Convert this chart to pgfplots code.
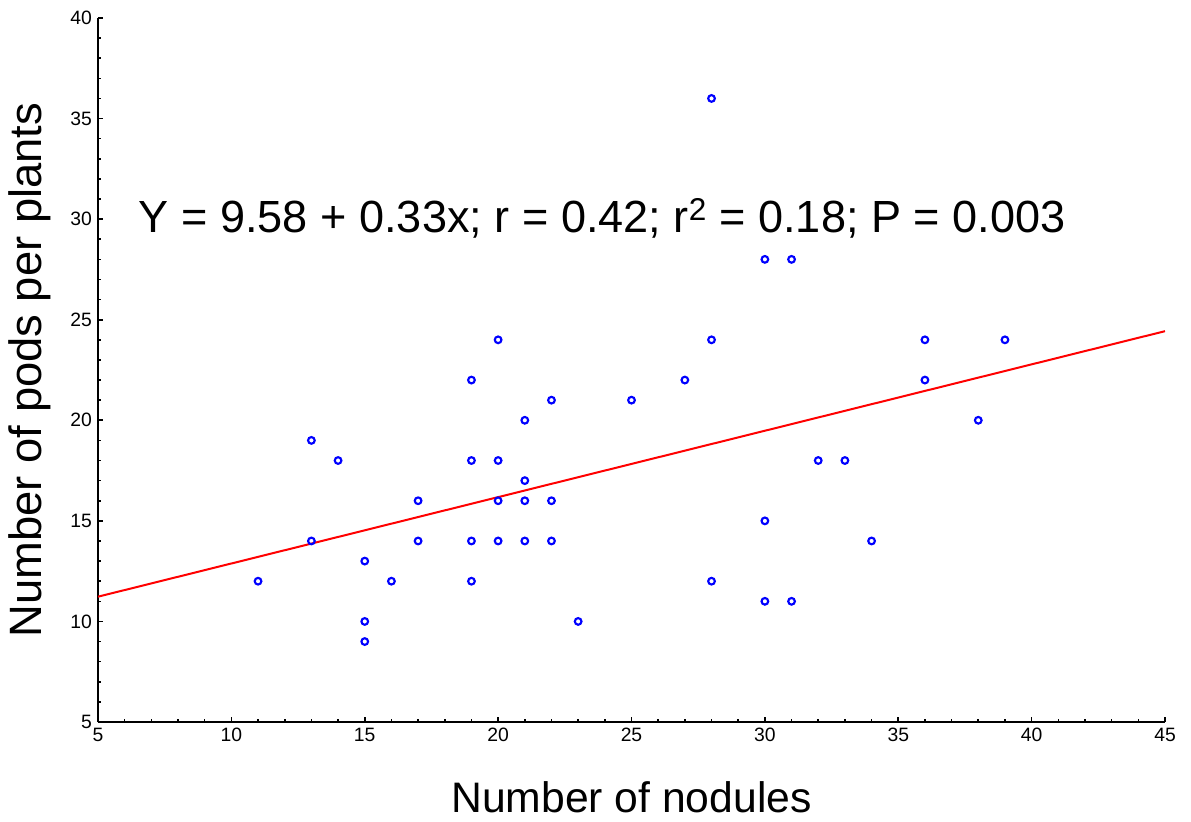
\documentclass[border=0pt]{standalone}
\usepackage{pgfplots}
\pgfplotsset{compat=1.18}
\usepackage{fontspec}
\setmainfont{Liberation Sans}
\begin{document}
\begin{tikzpicture}[x=0.75pt,y=0.75pt]
\useasboundingbox (-98,-99) rectangle (1093,722);
\begin{axis}[
  at={(0,0)}, anchor=south west,
  scale only axis, width=800.25pt, height=528pt,
  xmin=5, xmax=45, ymin=5, ymax=40,
  xtick={5,10,...,45}, ytick={5,10,...,40},
  xticklabels={5,10,15,20,25,30,35,40,45},
  yticklabels={5,10,15,20,25,30,35,40},
  minor tick num=4,
  axis x line=bottom, axis y line=left,
  axis line style={-, line width=1.5pt},
  tick align=inside,
  major tick length=4pt, minor tick length=2.2pt,
  every tick/.style={black, line width=1.2pt},
  tick label style={font=\fontsize{14.5pt}{16pt}\selectfont},
  yticklabel style={xshift=-1pt},
  xticklabel style={yshift=-1pt},
  xlabel={Number of nodules},
  ylabel={Number of pods per plants},
  xlabel style={font=\fontsize{32pt}{36pt}\selectfont, at={(axis description cs:0.5,0)}, anchor=center, yshift=-56.25pt},
  ylabel style={font=\fontsize{34pt}{38pt}\selectfont, at={(axis description cs:0,0.5)}, anchor=center, yshift=51pt},
  clip=false,
]
\addplot[red, line width=1.5pt] coordinates {(5,11.23) (45,24.43)};
\addplot[only marks, mark=o, mark size=2.5pt, mark options={blue, line width=1.6pt}] coordinates {
(11,12) (13,19) (13,14) (14,18) (15,13) (15,10) (15,9) (16,12) (17,16) (17,14)
(19,22) (19,18) (19,14) (19,12) (20,24) (20,18) (20,16) (20,14) (21,20) (21,17)
(21,16) (21,14) (22,21) (22,16) (22,14) (23,10) (25,21) (27,22) (28,36) (28,24)
(28,12) (30,28) (30,15) (30,11) (31,28) (31,11) (32,18) (33,18) (34,14) (36,24)
(36,22) (38,20) (39,24)};
\node[font=\fontsize{33.8pt}{38pt}\selectfont, anchor=center] at (axis cs:23.9,30.05) {Y = 9.58 + 0.33x; r = 0.42; r\textsuperscript{2} = 0.18; P = 0.003};
\end{axis}
\end{tikzpicture}
\end{document}
